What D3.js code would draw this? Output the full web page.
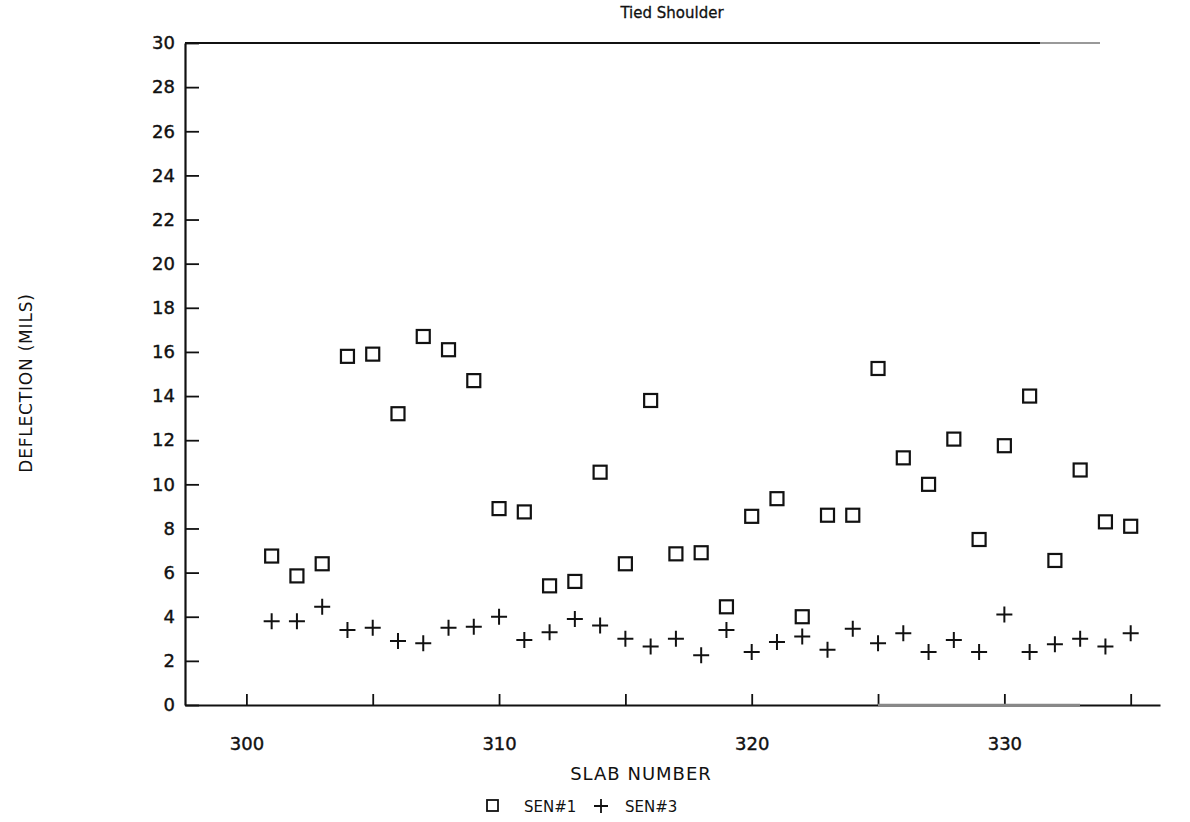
<!DOCTYPE html>
<html>
<head>
<meta charset="utf-8">
<script src="https://cdn.jsdelivr.net/npm/d3@7"></script>
<style>
  body { margin: 0; background: #fff; }
  svg { display: block; font-family: "DejaVu Sans", "Liberation Sans", sans-serif; }
</style>
</head>
<body>
<div id="chart"></div>
<script>
// slab numbers and deflections (mils)
const slabs = [301, 302, 303, 304, 305, 306, 307, 308, 309, 310, 311, 312, 313, 314, 315, 316, 317, 318,
               319, 320, 321, 322, 323, 324, 325, 326, 327, 328, 329, 330, 331, 332, 333, 334, 335];
const sen1 = [6.75, 5.85, 6.4, 15.8, 15.9, 13.2, 16.7, 16.1, 14.7, 8.9, 8.75, 5.4, 5.6, 10.55, 6.4, 13.8, 6.85, 6.9,
              4.45, 8.55, 9.35, 4.0, 8.6, 8.6, 15.25, 11.2, 10.0, 12.05, 7.5, 11.75, 14.0, 6.55, 10.65, 8.3, 8.1];
const sen3 = [3.8, 3.8, 4.45, 3.4, 3.5, 2.9, 2.8, 3.5, 3.55, 4.0, 2.95, 3.3, 3.9, 3.6, 3.0, 2.65, 3.0, 2.25,
              3.4, 2.4, 2.85, 3.1, 2.5, 3.45, 2.8, 3.25, 2.4, 2.95, 2.4, 4.1, 2.4, 2.75, 3.0, 2.65, 3.25];
const xTicks = [300, 305, 310, 315, 320, 325, 330, 335];
const yTicks = [0, 2, 4, 6, 8, 10, 12, 14, 16, 18, 20, 22, 24, 26, 28, 30];
const legendNames = ["SEN#1", "SEN#3"];

const FONT = '"DejaVu Sans", "Liberation Sans", sans-serif';

class Scatter {
  constructor(config) {
    this.config = config;
    this.svg = null;
    this.xScale = null;
    this.yScale = null;
    this.createSvg();
    this.createScales();
  }

  createSvg() {
    this.svg = d3.select(this.config.div)
      .append("svg")
      .attr("width", this.config.width)
      .attr("height", this.config.height);
  }

  createScales() {
    const c = this.config;
    this.xScale = d3.scaleLinear().domain([297.57, 336.16]).range([c.left, c.right]);
    this.yScale = d3.scaleLinear().domain([0, 30]).range([c.bottom, c.top]);
  }

  createAxis() {
    const c = this.config;
    const x = this.xScale, y = this.yScale;

    // top frame line (fades out to the right in the scan)
    this.svg.append("line")
      .attr("x1", c.left).attr("x2", 1040)
      .attr("y1", c.top).attr("y2", c.top)
      .attr("stroke", "#111").attr("stroke-width", 2.2);
    this.svg.append("line")
      .attr("x1", 1040).attr("x2", 1100)
      .attr("y1", c.top).attr("y2", c.top)
      .attr("stroke", "#999").attr("stroke-width", 2);

    const xAxis = d3.axisBottom(x)
      .tickValues(xTicks)
      .tickSize(-11)
      .tickSizeOuter(0)
      .tickFormat(d => d % 10 === 0 ? d : "");
    const gx = this.svg.append("g")
      .attr("transform", `translate(0,${c.bottom})`)
      .call(xAxis)
      .attr("font-family", FONT);
    gx.select(".domain").attr("stroke", "#111").attr("stroke-width", 2.2);
    gx.selectAll(".tick line").attr("stroke", "#111").attr("stroke-width", 1.8);
    gx.selectAll("text")
      .attr("y", 32)
      .attr("fill", "#111")
      .attr("stroke", "#111").attr("stroke-width", 0.4)
      .style("font-size", "18px");

    // lighter stretch of the bottom axis
    this.svg.append("line")
      .attr("x1", 878).attr("x2", 1080)
      .attr("y1", c.bottom).attr("y2", c.bottom)
      .attr("stroke", "#888").attr("stroke-width", 2.4);

    const yAxis = d3.axisLeft(y)
      .tickValues(yTicks)
      .tickSize(-14)
      .tickSizeOuter(0);
    const gy = this.svg.append("g")
      .attr("transform", `translate(${c.left},0)`)
      .call(yAxis)
      .attr("font-family", FONT);
    gy.select(".domain").attr("stroke", "#111").attr("stroke-width", 2.2);
    gy.selectAll(".tick line").attr("stroke", "#111").attr("stroke-width", 1.8);
    gy.selectAll("text")
      .attr("x", -10)
      .attr("fill", "#111")
      .attr("stroke", "#111").attr("stroke-width", 0.4)
      .style("font-size", "18px");

    this.svg.append("text")
      .attr("x", 672).attr("y", 18)
      .attr("text-anchor", "middle")
      .style("font-size", "15px")
      .attr("fill", "#111")
      .attr("stroke", "#111").attr("stroke-width", 0.3)
      .text("Tied Shoulder");

    this.svg.append("text")
      .attr("transform", "translate(32,383) rotate(-90)")
      .attr("text-anchor", "middle")
      .style("font-size", "17px")
      .style("letter-spacing", "0.8px")
      .attr("fill", "#111")
      .text("DEFLECTION (MILS)");

    this.svg.append("text")
      .attr("x", 641).attr("y", 780)
      .attr("text-anchor", "middle")
      .style("font-size", "18px")
      .style("letter-spacing", "1px")
      .attr("fill", "#111")
      .text("SLAB NUMBER");
  }

  render() {
    const x = this.xScale, y = this.yScale;
    const s = 13;

    this.svg.append("g").selectAll("rect")
      .data(slabs.map((d, i) => ({ slab: d, val: sen1[i] })))
      .join("rect")
      .attr("x", d => x(d.slab) - s / 2)
      .attr("y", d => y(d.val) - s / 2)
      .attr("width", s)
      .attr("height", s)
      .attr("fill", "none")
      .attr("stroke", "#111")
      .attr("stroke-width", 2.2);

    this.svg.append("g").selectAll("path")
      .data(slabs.map((d, i) => ({ slab: d, val: sen3[i] })))
      .join("path")
      .attr("d", d => {
        const px = x(d.slab), py = y(d.val);
        return `M${px - 8},${py}H${px + 8}M${px},${py - 8}V${py + 8}`;
      })
      .attr("fill", "none")
      .attr("stroke", "#111")
      .attr("stroke-width", 2);
  }

  createLegend() {
    const g = this.svg.append("g").attr("transform", "translate(0,806)");
    g.append("rect")
      .attr("x", 487).attr("y", -6).attr("width", 11).attr("height", 11)
      .attr("fill", "none").attr("stroke", "#111").attr("stroke-width", 1.8);
    g.append("path")
      .attr("d", "M594,0H608M601,-7V7")
      .attr("stroke", "#111").attr("stroke-width", 1.8);
    g.selectAll("text")
      .data(legendNames)
      .join("text")
      .attr("x", (d, i) => i === 0 ? 524 : 625)
      .attr("y", 6)
      .style("font-size", "15px")
      .attr("fill", "#111")
      .text(d => d);
  }
}

function main() {
  const c = { div: "#chart", width: 1190, height: 822, top: 43, bottom: 705, left: 185, right: 1160 };
  const app = new Scatter(c);
  app.createAxis();
  app.render();
  app.createLegend();
}

main();
</script>
</body>
</html>
